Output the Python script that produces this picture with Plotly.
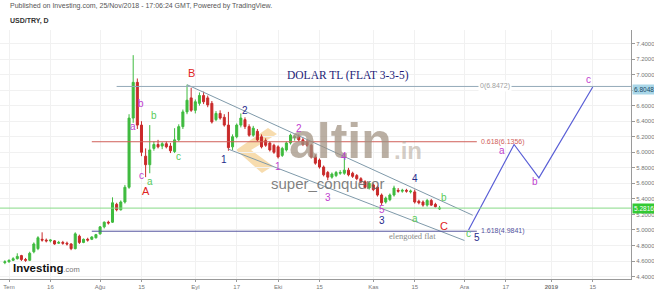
import numpy as np
import pandas as pd
import plotly.graph_objects as go

# ---------------- USD/TRY daily candles ----------------
dates = pd.bdate_range("2018-06-29", "2018-11-23")
opens = [4.58, 4.59, 4.61, 4.63, 4.67, 4.62, 4.61, 4.72, 4.76, 4.88,
         4.87, 4.86, 4.86, 4.83, 4.84, 4.83, 4.82, 4.76, 4.92, 4.84,
         4.88, 4.88, 4.90, 4.95, 5.04, 5.10, 5.10, 5.33, 5.26, 5.36,
         5.55, 6.44, 6.90, 6.35, 5.95, 5.84, 6.05, 6.10, 6.08, 6.11,
         6.08, 6.01, 6.16, 6.33, 6.52, 6.70, 6.54, 6.63, 6.73, 6.70,
         6.63, 6.42, 6.50, 6.45, 6.35, 6.07, 6.20, 6.35, 6.42, 6.33,
         6.22, 6.27, 6.20, 6.15, 6.12, 6.09, 6.07, 5.96, 6.03, 6.12,
         6.19, 6.20, 6.16, 6.14, 6.09, 5.94, 5.90, 5.81, 5.74, 5.68,
         5.70, 5.73, 5.73, 5.77, 5.73, 5.70, 5.66, 5.62, 5.54, 5.58,
         5.55, 5.45, 5.36, 5.39, 5.45, 5.51, 5.50, 5.51, 5.49, 5.49,
         5.37, 5.36, 5.32, 5.38, 5.33, 5.27]
highs = [4.61, 4.62, 4.65, 4.70, 4.68, 4.64, 4.72, 4.84, 4.92, 4.97,
         4.89, 4.88, 4.87, 4.86, 4.86, 4.85, 4.83, 4.97, 4.94, 4.89,
         4.90, 4.92, 4.95, 5.05, 5.11, 5.12, 5.42, 5.35, 5.38, 5.58,
         6.49, 7.25, 6.95, 6.40, 6.05, 6.35, 6.14, 6.16, 6.13, 6.14,
         6.12, 6.31, 6.36, 6.55, 6.87, 6.83, 6.68, 6.77, 6.78, 6.73,
         6.66, 6.53, 6.54, 6.49, 6.52, 6.23, 6.37, 6.50, 6.45, 6.36,
         6.34, 6.30, 6.23, 6.18, 6.14, 6.11, 6.09, 6.07, 6.14, 6.24,
         6.22, 6.23, 6.19, 6.16, 6.11, 5.97, 5.92, 5.83, 5.76, 5.74,
         5.76, 5.77, 5.99, 5.80, 5.75, 5.72, 5.68, 5.64, 5.62, 5.60,
         5.57, 5.47, 5.43, 5.47, 5.57, 5.54, 5.53, 5.53, 5.52, 5.52,
         5.39, 5.38, 5.40, 5.40, 5.35, 5.31]
lows = [4.56, 4.58, 4.60, 4.62, 4.60, 4.59, 4.60, 4.70, 4.74, 4.85,
        4.84, 4.84, 4.81, 4.82, 4.81, 4.80, 4.74, 4.75, 4.82, 4.83,
        4.85, 4.87, 4.89, 4.94, 5.02, 5.07, 5.09, 5.24, 5.25, 5.34,
        5.53, 6.38, 6.30, 5.95, 5.68, 5.73, 6.02, 6.05, 6.04, 6.05,
        5.99, 5.99, 6.14, 6.30, 6.49, 6.52, 6.50, 6.60, 6.62, 6.58,
        6.37, 6.40, 6.42, 6.33, 6.02, 6.03, 6.18, 6.32, 6.30, 6.20,
        6.20, 6.14, 6.05, 6.07, 6.01, 5.98, 5.92, 5.94, 6.01, 6.10,
        6.15, 6.14, 6.08, 6.07, 5.92, 5.84, 5.79, 5.69, 5.64, 5.66,
        5.68, 5.71, 5.71, 5.69, 5.67, 5.64, 5.60, 5.53, 5.52, 5.50,
        5.43, 5.32, 5.34, 5.37, 5.43, 5.48, 5.48, 5.48, 5.47, 5.34,
        5.33, 5.30, 5.30, 5.31, 5.29, 5.26]
closes = [4.59, 4.61, 4.63, 4.66, 4.62, 4.61, 4.70, 4.82, 4.90, 4.87,
          4.86, 4.87, 4.82, 4.84, 4.83, 4.82, 4.76, 4.95, 4.84, 4.88,
          4.87, 4.91, 4.94, 5.04, 5.10, 5.09, 5.35, 5.26, 5.36, 5.55,
          6.44, 6.90, 6.35, 6.00, 5.84, 6.03, 6.10, 6.07, 6.11, 6.07,
          6.02, 6.16, 6.33, 6.52, 6.67, 6.54, 6.65, 6.73, 6.65, 6.61,
          6.39, 6.50, 6.44, 6.35, 6.06, 6.20, 6.35, 6.44, 6.33, 6.22,
          6.31, 6.16, 6.07, 6.09, 6.03, 6.00, 5.94, 6.05, 6.12, 6.22,
          6.20, 6.16, 6.10, 6.09, 5.94, 5.86, 5.81, 5.71, 5.68, 5.72,
          5.74, 5.74, 5.77, 5.71, 5.69, 5.66, 5.62, 5.55, 5.60, 5.52,
          5.45, 5.35, 5.41, 5.45, 5.54, 5.50, 5.51, 5.50, 5.50, 5.36,
          5.35, 5.32, 5.38, 5.32, 5.30, 5.2816]

# ---------------- drawn studies ----------------
fib_levels = ["0", "0.618", "1.618"]
fib_prices = [6.8472, 6.1356, 4.9841]
fib_span = ["2018-07-30", "2018-12-06"]
top_line_start = "2018-08-07"
axis_badge_price = 6.8048
last_price = 5.2816

channel_upper_dates = ["2018-08-30", "2018-12-05"]
channel_upper_prices = [6.87, 5.19]
channel_lower_dates = ["2018-09-13", "2018-12-03"]
channel_lower_prices = [6.04, 4.865]

projection_dates = ["2018-12-04", "2018-12-19", "2018-12-27", "2019-01-15"]
projection_prices = [5.00, 6.10, 5.67, 6.84]

# wave labels: (text, date, price, group)
wave_labels = [
    ("B", "2018-08-31", 7.02, "red"),
    ("A", "2018-08-16", 5.50, "red"),
    ("C", "2018-11-26", 5.05, "red"),
    ("b", "2018-08-15", 6.63, "mag"),
    ("a", "2018-08-13", 6.33, "mag"),
    ("c", "2018-08-15", 5.70, "mag"),
    ("a", "2018-08-17", 5.62, "grn"),
    ("b", "2018-08-20", 6.47, "grn"),
    ("c", "2018-08-28", 5.94, "grn"),
    ("1", "2018-09-12", 5.91, "navy"),
    ("2", "2018-09-19", 6.54, "navy"),
    ("3", "2018-11-05", 5.12, "navy"),
    ("4", "2018-11-15", 5.66, "navy"),
    ("5", "2018-12-06", 4.90, "navy"),
    ("1", "2018-10-01", 5.82, "mag"),
    ("2", "2018-10-08", 6.31, "mag"),
    ("3", "2018-10-17", 5.42, "mag"),
    ("4", "2018-10-23", 5.94, "mag"),
    ("5", "2018-11-05", 5.26, "mag"),
    ("a", "2018-11-15", 5.15, "grn"),
    ("b", "2018-11-26", 5.42, "grn"),
    ("c", "2018-12-04", 4.95, "grn"),
    ("a", "2018-12-14", 6.02, "mag"),
    ("b", "2018-12-26", 5.62, "mag"),
    ("c", "2019-01-14", 6.94, "mag"),
]

tick_dates = ["2018-07-02", "2018-07-16", "2018-08-01", "2018-08-15",
              "2018-09-03", "2018-09-17", "2018-10-01", "2018-10-15",
              "2018-11-01", "2018-11-15", "2018-12-03", "2018-12-17",
              "2019-01-01", "2019-01-15"]
tick_text = ["Tem", "16", "Ağu", "15", "Eyl", "17", "Eki", "15", "Kas",
             "15", "Ara", "17", "<b>2019</b>", "15"]
price_ticks = [4.4, 4.6, 4.8, 5.0, 5.2, 5.4, 5.6, 5.8, 6.0, 6.2, 6.4,
               6.6, 6.8, 7.0, 7.2, 7.4]

# ---------------- helpers ----------------
ORIGIN = np.datetime64("2018-07-02", "D")


def tday(d):
    """Trading-day position (weekends skipped) of a date."""
    return float(np.busday_count(ORIGIN, np.datetime64(pd.Timestamp(d).date(), "D")))


W, H = 654, 292
L, R, T, B = 0, 631, 30, 279          # plot area in pixels


def px(x):
    return (x - L) / (R - L)


def py(y):
    return (B - y) / (B - T)


UP, DOWN = "#3fbb3f", "#c92a2a"
FONT = "Liberation Sans"
label_colors = {"red": "#e0231d", "mag": "#c03fcf", "grn": "#5acb5a", "navy": "#1f2a8c"}

xc = np.busday_count(ORIGIN, dates.values.astype("datetime64[D]")).astype(float)

fig = go.Figure()

fig.add_trace(go.Candlestick(
    x=xc, open=opens, high=highs, low=lows, close=closes,
    increasing=dict(line=dict(color=UP, width=1), fillcolor=UP),
    decreasing=dict(line=dict(color=DOWN, width=1), fillcolor=DOWN),
    whiskerwidth=0, hoverinfo="skip", showlegend=False,
))

# trend channel
fig.add_trace(go.Scatter(x=[tday(d) for d in channel_upper_dates], y=channel_upper_prices,
                         mode="lines", line=dict(color="#7f9aaa", width=1), hoverinfo="skip"))
fig.add_trace(go.Scatter(x=[tday(d) for d in channel_lower_dates], y=channel_lower_prices,
                         mode="lines", line=dict(color="#7f9aaa", width=1), hoverinfo="skip"))

# projected a-b-c path
fig.add_trace(go.Scatter(x=[tday(d) for d in projection_dates], y=projection_prices,
                         mode="lines", line=dict(color="#5a5fd6", width=1.2), hoverinfo="skip"))

shapes = []
annotations = []

# watermark
logo = [(268, 128), (236, 150), (262, 173), (273, 166), (251, 150), (277, 134)]
path = "M " + " L ".join(f"{px(x):.5f},{py(y):.5f}" for x, y in logo) + " Z"
shapes.append(dict(type="path", xref="paper", yref="paper", path=path,
                   fillcolor="rgba(242,196,120,0.6)", line=dict(width=0), layer="below"))
annotations += [
    dict(x=px(287), y=py(141), xref="paper", yref="paper", xanchor="left", yanchor="middle",
         text="<b>altin</b>", showarrow=False,
         font=dict(family=FONT, size=50, color="rgba(160,144,128,0.72)")),
    dict(x=px(392), y=py(150), xref="paper", yref="paper", xanchor="left", yanchor="middle",
         text="<b>.in</b>", showarrow=False,
         font=dict(family=FONT, size=24, color="rgba(175,162,148,0.55)")),
    dict(x=px(327), y=py(183), xref="paper", yref="paper", xanchor="center", yanchor="middle",
         text="super_conqueror", showarrow=False,
         font=dict(family=FONT, size=15, color="rgba(105,105,105,0.85)")),
]

# horizontal lines: last price across the chart, top level ray to the price scale
shapes.append(dict(type="line", xref="paper", yref="y", x0=0, x1=1, y0=last_price, y1=last_price,
                   line=dict(color="#86db86", width=1)))
shapes.append(dict(type="line", xref="x", yref="y", x0=tday(top_line_start), x1=(R - 9) / 4.14,
                   y0=fib_prices[0], y1=fib_prices[0], line=dict(color="#93a9b8", width=1)))

fib_colors = ["#a0a0a0", "#d0605a", "#54549e"]
for i, (lvl, p, col) in enumerate(zip(fib_levels, fib_prices, fib_colors)):
    if i > 0:
        shapes.append(dict(type="line", xref="x", yref="y", x0=tday(fib_span[0]),
                           x1=tday(fib_span[1]), y0=p, y1=p, line=dict(color=col, width=1)))
    annotations.append(dict(x=tday(fib_span[1]), y=p, xref="x", yref="y", xanchor="left",
                            yanchor="middle", xshift=1 if i == 0 else 2,
                            text=f"{lvl}({p:.4f})", showarrow=False,
                            bgcolor="white" if i == 0 else None,
                            font=dict(family=FONT, size=7, color=col)))

# titles
annotations += [
    dict(x=px(348), y=py(75), xref="paper", yref="paper", xanchor="center", yanchor="middle",
         text="DOLAR TL (FLAT 3-3-5)", showarrow=False,
         font=dict(family="Liberation Serif", size=11.5, color="#1c1c78")),
    dict(x=px(412), y=py(236), xref="paper", yref="paper", xanchor="center", yanchor="middle",
         text="elengoted flat", showarrow=False,
         font=dict(family="Liberation Serif", size=8.5, color="#8a8a8a")),
]

# wave labels
for txt, d, p, grp in wave_labels:
    size = 11 if grp == "red" else 10
    annotations.append(dict(x=tday(d), y=p, xref="x", yref="y", xanchor="center", yanchor="middle",
                            text=txt, showarrow=False,
                            font=dict(family=FONT, size=size, color=label_colors[grp])))

# price scale badges
annotations += [
    dict(x=1, y=axis_badge_price, xref="paper", yref="y", xanchor="left", yanchor="middle",
         xshift=1, text=f"{axis_badge_price:.4f}", showarrow=False, bgcolor="#a8d6e8",
         borderpad=1, font=dict(family=FONT, size=6.5, color="#1d4a66")),
    dict(x=1, y=last_price, xref="paper", yref="y", xanchor="left", yanchor="middle", xshift=1,
         text=f"{last_price:.4f}", showarrow=False, bgcolor="#33c933", borderpad=1,
         font=dict(family=FONT, size=6.5, color="#ffffff")),
]

# header and footer
annotations += [
    dict(x=px(8), y=py(6), xref="paper", yref="paper", xanchor="left", yanchor="middle",
         text="Published on Investing.com, 25/Nov/2018 - 17:06:24 GMT, Powered by TradingView.",
         showarrow=False, font=dict(family=FONT, size=7, color="#555555")),
    dict(x=px(8), y=py(21), xref="paper", yref="paper", xanchor="left", yanchor="middle",
         text="<b>USD/TRY, D</b>", showarrow=False, font=dict(family=FONT, size=7, color="#333333")),
    dict(x=px(11), y=py(268), xref="paper", yref="paper", xanchor="left", yanchor="middle",
         text="<b>Investing</b><span style='font-size:7.5px;color:#777777'>.com</span>",
         showarrow=False, font=dict(family=FONT, size=11.5, color="#111111")),
]

# the 6.8 tick sits under the badge, so it is left blank
price_tick_text = ["" if abs(v - 6.8) < 1e-9 else f"{v:.4f}" for v in price_ticks]

fig.update_layout(
    width=W, height=H,
    margin=dict(l=L, r=W - R, t=T, b=H - B),
    paper_bgcolor="white", plot_bgcolor="white",
    showlegend=False,
    shapes=shapes, annotations=annotations,
    font=dict(family=FONT),
    xaxis=dict(
        range=[(L - 9) / 4.14, (R - 9) / 4.14],
        tickvals=[tday(d) for d in tick_dates], ticktext=tick_text,
        showgrid=True, gridcolor="#f1f1f1", gridwidth=1,
        showline=True, linecolor="#9a9a9a", linewidth=1,
        ticks="outside", ticklen=2, tickcolor="#9a9a9a",
        tickfont=dict(family=FONT, size=6, color="#777777"),
        zeroline=False, rangeslider=dict(visible=False), fixedrange=True,
    ),
    yaxis=dict(
        side="right",
        range=[7.4 - (B - 43.5) / 77.7, 7.4 + (43.5 - T) / 77.7],
        tickvals=price_ticks, ticktext=price_tick_text,
        showgrid=True, gridcolor="#f1f1f1", gridwidth=1,
        showline=True, linecolor="#9a9a9a", linewidth=1,
        ticks="outside", ticklen=3, tickcolor="#9a9a9a",
        tickfont=dict(family=FONT, size=6, color="#777777"),
        zeroline=False, fixedrange=True,
    ),
)

fig.write_html("out.html")
